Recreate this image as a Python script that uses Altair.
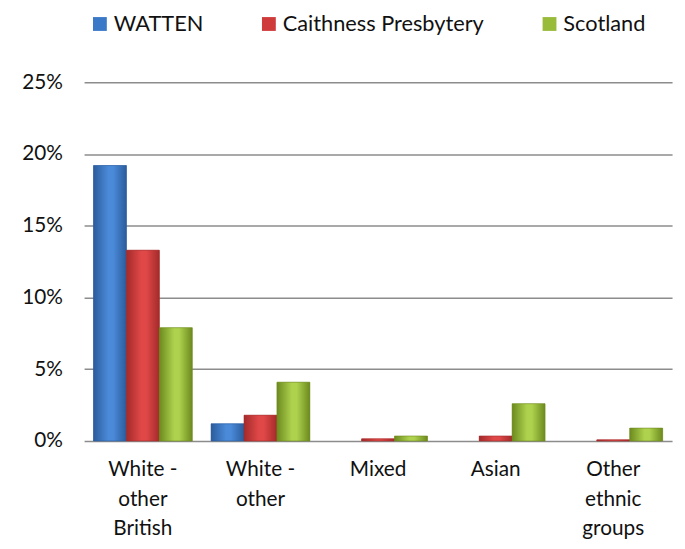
import altair as alt
import pandas as pd

categories = ["White -\nother\nBritish", "White -\nother", "Mixed", "Asian", "Other\nethnic\ngroups"]
series = ["WATTEN", "Caithness Presbytery", "Scotland"]
watten = [19.2, 1.2, 0.0, 0.0, 0.0]
caithness = [13.3, 1.8, 0.15, 0.35, 0.08]
scotland = [7.9, 4.1, 0.35, 2.6, 0.9]
y_ticks = [0, 5, 10, 15, 20, 25]

solid = ["#3a78c8", "#cf3a3a", "#99bb3a"]
grads = [
    ("#2b5c9c", "#4a8ad8", "#2b5c9c"),
    ("#a42a2a", "#e04848", "#a42a2a"),
    ("#6c8a1e", "#aed24e", "#6c8a1e"),
]

rows = []
for s, vals in zip(series, [watten, caithness, scotland]):
    for c, v in zip(categories, vals):
        rows.append({"category": c, "series": s, "value": v})
df = pd.DataFrame(rows)

FONT = "Lato"
FS = 21

x_enc = alt.X("category:N", sort=categories,
              scale=alt.Scale(paddingInner=0.16, paddingOuter=0.08),
              axis=alt.Axis(title=None, labelAngle=0, domain=False, ticks=False,
                            labelPadding=18, labelFont=FONT, labelFontSize=FS,
                            labelColor="#111111", labelLineHeight=30,
                            labelExpr="split(datum.label, '\\n')"))
xo_enc = alt.XOffset("series:N", sort=series, scale=alt.Scale(domain=series))
y_enc = alt.Y("value:Q", scale=alt.Scale(domain=[0, 25], nice=False),
              axis=alt.Axis(title=None, values=y_ticks, domain=False, ticks=False,
                            labelPadding=22, labelFont=FONT, labelFontSize=FS,
                            labelColor="#111111", gridColor="#8c8c8c", gridWidth=1.5,
                            labelExpr="datum.value + '%'"))

base = alt.Chart(df).mark_bar().encode(
    x=x_enc, xOffset=xo_enc, y=y_enc,
    color=alt.Color("series:N", sort=series,
                    scale=alt.Scale(domain=series, range=solid),
                    legend=alt.Legend(title=None, orient="none", legendX=5, legendY=-70,
                                      direction="horizontal", symbolType="square",
                                      symbolSize=196, symbolStrokeWidth=0,
                                      labelFont=FONT, labelFontSize=22, labelLimit=400,
                                      labelColor="#111111", columnPadding=55,
                                      labelOffset=3)),
)

layers = [base]
for s, (d, l, d2) in zip(series, grads):
    g = alt.Gradient(gradient="linear", x1=0, x2=1, y1=0, y2=0,
                     stops=[alt.GradientStop(color=d, offset=0),
                            alt.GradientStop(color=l, offset=0.45),
                            alt.GradientStop(color=l, offset=0.6),
                            alt.GradientStop(color=d2, offset=1)])
    layers.append(
        alt.Chart(df).transform_filter((alt.datum.series == s) & (alt.datum.value > 0))
        .mark_bar(fill=g, stroke=d, strokeWidth=0.6)
        .encode(x=x_enc, xOffset=xo_enc, y=y_enc)
    )

chart = alt.layer(*layers).properties(
    width=595, height=363,
    autosize=alt.AutoSizeParams(type="none"),
    padding={"left": 77, "top": 72, "right": 5, "bottom": 98},
).configure_view(stroke=None)

chart.save("out.html", embed_options={"renderer": "svg", "actions": False})
